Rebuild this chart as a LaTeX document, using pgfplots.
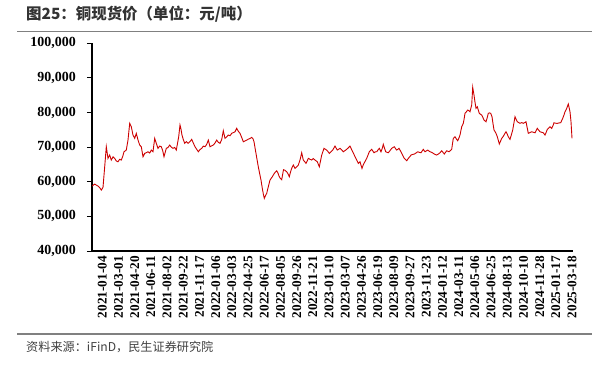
\documentclass[border=0pt]{standalone}
\usepackage{pgfplots}
\pgfplotsset{compat=1.18}
\usepackage{fontspec}
\setmainfont{Liberation Serif}
\newfontfamily\cjk{Noto Sans CJK SC}
\definecolor{cured}{RGB}{204,0,0}
\definecolor{rulegray}{RGB}{128,128,128}
\definecolor{titlegray}{RGB}{51,51,51}
\definecolor{srcgray}{RGB}{64,64,64}
\begin{document}
\begin{tikzpicture}
\path[use as bounding box] (0,0) rectangle (606bp,-366bp);
\node[anchor=west,inner sep=0pt,text=titlegray] at (26bp,-14bp) {\cjk\bfseries\fontsize{15.5}{17}\selectfont 图25：铜现货价（单位：元/吨）};
\draw[rulegray,line width=1.5bp] (17bp,-31.7bp) -- (592bp,-31.7bp);
\draw[rulegray,line width=1.5bp] (17bp,-334bp) -- (592bp,-334bp);
\node[anchor=west,inner sep=0pt,text=srcgray] at (26bp,-347bp) {\cjk\fontsize{12.2}{14}\selectfont 资料来源：iFinD，民生证券研究院};
\begin{axis}[
  at={(92bp,-251bp)}, anchor=south west,
  scale only axis, width=481bp, height=207.7bp,
  xmin=92, xmax=573, ymin=40000, ymax=100000,
  axis lines=left, axis line style={line width=1.2bp,black,-},
  ytick={40000,50000,...,100000},
  scaled y ticks=false,
  ytick style={line width=1bp,black},
  major tick length=5bp,
  tick align=outside,
  xtick={93.3,109.5,125.7,141.9,158.1,174.3,190.5,206.7,222.9,239.1,255.3,271.5,287.7,303.9,320.1,336.3,352.5,368.7,384.9,401.1,417.3,433.5,449.7,465.9,482.1,498.3,514.5,530.7,546.9,563.1},
  xticklabels={2021-01-04,2021-03-01,2021-04-20,2021-06-11,2021-08-02,2021-09-22,2021-11-17,2022-01-06,2022-03-03,2022-04-25,2022-06-17,2022-08-05,2022-09-26,2022-11-21,2023-01-10,2023-03-07,2023-04-26,2023-06-19,2023-08-09,2023-09-27,2023-11-23,2024-01-12,2024-03-11,2024-05-06,2024-06-25,2024-08-13,2024-10-10,2024-11-28,2025-01-17,2025-03-18},
  x tick style={draw=none},
  xticklabel style={rotate=90,anchor=east,font=\bfseries\fontsize{13.3}{14}\selectfont,inner sep=0pt,yshift=-9bp},
  yticklabel style={anchor=east,font=\bfseries\fontsize{14}{15}\selectfont,inner sep=0pt,xshift=-11bp,
    /pgf/number format/.cd, fixed, precision=0, 1000 sep={,}, assume math mode=true},
]
\addplot[cured,line width=0.9bp,mark=none] coordinates {
(92,58760)(94.7,59340)(96.5,59000)(98,58760)(99.7,58300)(101.3,57600)(103,58380)(104.7,64340)(106.3,70120)(108,66760)(109.7,67720)(111.3,66270)(113,67200)(114.7,66760)(116.3,66000)(118,65780)(119.7,66500)(121.3,66270)(122.7,67300)(124,68670)(126.3,69160)(128,72050)(129.7,76880)(131.3,75900)(133,73500)(134.7,72545)(136.3,73990)(138,72050)(139.7,70610)(141.3,70120)(143,67230)(144.7,68210)(146.3,68400)(148,68670)(149.7,68300)(151.3,69160)(153,68670)(154.7,72545)(156.3,71100)(158,69655)(159.7,70300)(161.3,70120)(162.7,69000)(164,67230)(166.3,69655)(168,69900)(169.7,70610)(171.3,70000)(173,69655)(174.7,69900)(176.3,69160)(178.7,73010)(180,76390)(181,75200)(182,73500)(183.3,72200)(184.7,71100)(186.3,71600)(188,71100)(190,71600)(191.7,72260)(193.3,71200)(195,70120)(196.7,69400)(198.3,68670)(200,69300)(201.7,69655)(203.3,70300)(205,70120)(206.7,70800)(208.3,72050)(210,70120)(211.7,70400)(213.3,70610)(215,71200)(216.7,72050)(218.3,71400)(220,71100)(221.7,72200)(223.3,74740)(225,72545)(226.7,73000)(228.3,73500)(230,73300)(231.7,73990)(233.3,74200)(235,74450)(236.7,75435)(238.3,74600)(240,73990)(241.7,72800)(243.3,71560)(245,71800)(246.7,72050)(248.3,72300)(250,72500)(251.7,72830)(253,72400)(254,71560)(255.7,68670)(257,66500)(258.3,64340)(259.7,62300)(261,60490)(262.3,58095)(263.3,56500)(264.3,55200)(265.5,56000)(266.7,56650)(268.3,58560)(270,60490)(271.2,61000)(272.3,61450)(274.3,62430)(276.7,63180)(278,62500)(279,61650)(280.3,61000)(281.7,60600)(283.5,63500)(285,63300)(286.7,62890)(288,62300)(289.3,61450)(290.5,62800)(291.7,63875)(293.3,64830)(295,63875)(296.7,64300)(298.3,64830)(300,66270)(301.7,68380)(303.3,66270)(304.7,65800)(306,65320)(307.2,66000)(308.3,66760)(310,66500)(311.7,66270)(313.3,66700)(315,66270)(317.3,65780)(319.3,64340)(320.5,66000)(321.7,67720)(323,68800)(324,69655)(325.3,69400)(326.7,69160)(328,68700)(329.3,68210)(331,68700)(332.7,69160)(334,69800)(335,70320)(336.2,69700)(337.3,69160)(338.7,69400)(340,69655)(341.7,69200)(343.3,68670)(345,69000)(346.7,69370)(348.3,69800)(350,70320)(351.3,69500)(352.7,68670)(354,67900)(355,67230)(356.7,66300)(358.3,65320)(360,65780)(361,64800)(362,63875)(363,64700)(364,65320)(365.3,66000)(366.7,66760)(368,67700)(369.3,68670)(370.5,69000)(371.7,69370)(372.8,68900)(374,68380)(375.3,68650)(376.7,68670)(378,69200)(379.3,69655)(381,68670)(382.2,69600)(383.3,70810)(384.5,69700)(385.7,68670)(387,68500)(388.3,68380)(390,69000)(391.7,69655)(393,69900)(394.3,70120)(395.5,69600)(396.7,69160)(398,69400)(399,69655)(400.3,69000)(401.7,68210)(403,67500)(404.3,66760)(405.5,66400)(406.7,66070)(408.3,66760)(409.7,67200)(411,67720)(412.7,67900)(414.3,68010)(416,68300)(417.7,68670)(419.3,68500)(421,68380)(423.3,69370)(425,68670)(426.3,68900)(427.7,69160)(430,68670)(431.7,68500)(433.3,68210)(435,67900)(436.7,67720)(438.3,68000)(440,68380)(441.7,68960)(443,68500)(444.3,68010)(445.5,68500)(446.7,68960)(449,68670)(450.3,69000)(451.7,69370)(452.5,71000)(453.3,72545)(455,73010)(456.3,72400)(457.7,71850)(459,72700)(460,73500)(461.7,75900)(463.3,76880)(464.2,78300)(465,79770)(466.3,80200)(467.7,80720)(469,80500)(470,80230)(471.7,82170)(472.7,87280)(474,85060)(475,83000)(476,81210)(477.3,81680)(478.3,80700)(479.3,79770)(480.5,79500)(481.7,79280)(483,78500)(484,77830)(486,77340)(487.2,78500)(488.3,79770)(489.5,79900)(490.7,79770)(492,78790)(493,76800)(494,74940)(495,74500)(496,73990)(497.3,73010)(498.3,72000)(499.3,70900)(500.5,71700)(501.7,72545)(503,73000)(504,73500)(505,74000)(506,74450)(507.2,73800)(508.3,73010)(509.2,72600)(510,72260)(511.3,73500)(512.7,74940)(513.8,76800)(515,78790)(516.2,78000)(517.3,77340)(518.7,77100)(520,76880)(521.7,77100)(523.3,76880)(524.7,77100)(526,77340)(527.2,75600)(528.3,73990)(530,74200)(531.7,74450)(533.3,74300)(535,74160)(536.2,74800)(537.3,75435)(538.7,74900)(540,74450)(541.7,74300)(543.3,74160)(545,73500)(546.2,74300)(547.3,75150)(548.7,75500)(550,75900)(551.7,75435)(553,76200)(554,77050)(555.7,76900)(557.3,76880)(559,77000)(560.7,77050)(561.7,77700)(562.7,78325)(564,79300)(565,80230)(566.7,81210)(568.3,82460)(569.2,81300)(570,80230)(571,77340)(572,72545)
};
\end{axis}
\end{tikzpicture}
\end{document}
